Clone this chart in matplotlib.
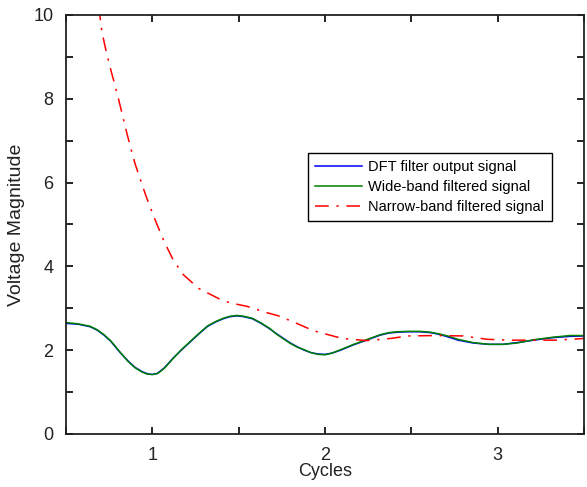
import matplotlib
matplotlib.use('Agg')
import matplotlib.pyplot as plt
from matplotlib.ticker import MultipleLocator, FuncFormatter

plt.rcParams['font.family'] = ['Liberation Sans', 'DejaVu Sans']

# Cycles axis for the DFT / wide-band outputs
x_bg = [0.5, 0.57, 0.64, 0.68, 0.72, 0.76, 0.81, 0.86, 0.90, 0.94, 0.97, 1.0, 1.03, 1.07,
        1.12, 1.17, 1.22, 1.27, 1.32, 1.37, 1.41, 1.45, 1.49, 1.53, 1.58, 1.63, 1.68, 1.72,
        1.76, 1.80, 1.84, 1.88, 1.92, 1.96, 2.0, 2.04, 2.09, 2.16, 2.24, 2.32, 2.37, 2.42,
        2.48, 2.55, 2.61, 2.66, 2.71, 2.77, 2.86, 2.95, 3.03, 3.11, 3.21, 3.32, 3.42, 3.5]
dft_out = [2.64, 2.62, 2.56, 2.48, 2.36, 2.21, 1.96, 1.74, 1.59, 1.49, 1.44, 1.42, 1.45, 1.58,
           1.81, 2.01, 2.20, 2.39, 2.57, 2.68, 2.75, 2.80, 2.82, 2.80, 2.75, 2.64, 2.51, 2.39,
           2.28, 2.17, 2.08, 2.00, 1.94, 1.91, 1.90, 1.93, 2.00, 2.12, 2.24, 2.36, 2.41, 2.43,
           2.44, 2.44, 2.42, 2.38, 2.32, 2.24, 2.17, 2.14, 2.14, 2.18, 2.24, 2.30, 2.33, 2.34]
wide_band = [2.66, 2.63, 2.57, 2.49, 2.37, 2.22, 1.97, 1.73, 1.58, 1.48, 1.43, 1.42, 1.44, 1.57,
             1.80, 2.02, 2.21, 2.40, 2.58, 2.69, 2.76, 2.81, 2.83, 2.81, 2.76, 2.65, 2.52, 2.38,
             2.27, 2.16, 2.07, 2.01, 1.94, 1.90, 1.89, 1.93, 2.01, 2.13, 2.25, 2.37, 2.42, 2.44,
             2.45, 2.45, 2.43, 2.39, 2.34, 2.26, 2.18, 2.14, 2.14, 2.17, 2.25, 2.31, 2.35, 2.35]

# Narrow-band output
x_nb = [0.69, 0.707, 0.73, 0.76, 0.78, 0.805, 0.83, 0.85, 0.87, 0.90, 0.93, 0.965, 1.0,
        1.03, 1.07, 1.12, 1.18, 1.27, 1.39, 1.45, 1.545, 1.66, 1.73, 1.82, 1.93, 2.0,
        2.10, 2.24, 2.38, 2.48, 2.65, 2.80, 2.94, 3.07, 3.2, 3.34, 3.5]
narrow_band = [10.2, 9.62, 9.18, 8.68, 8.38, 7.98, 7.56, 7.22, 6.90, 6.45, 6.08, 5.66, 5.28,
               4.97, 4.58, 4.16, 3.80, 3.47, 3.22, 3.13, 3.05, 2.90, 2.82, 2.67, 2.47, 2.39,
               2.28, 2.23, 2.28, 2.34, 2.35, 2.34, 2.26, 2.24, 2.24, 2.24, 2.28]

fig = plt.figure(figsize=(5.87, 4.87), dpi=100)
ax = fig.add_axes([66/587, 53/487, 518/587, 419/487])

ax.plot(x_bg, dft_out, color='#0000ff', lw=1.1, label='DFT filter output signal')
ax.plot(x_bg, wide_band, color='#008000', lw=1.1, label='Wide-band filtered signal')
ax.plot(x_nb, narrow_band, color='#ff0000', lw=1.1, dashes=(9, 5, 1.5, 5),
        label='Narrow-band filtered signal')

ax.set_xlim(0.5, 3.5)
ax.set_ylim(0, 10)
ax.xaxis.set_major_locator(MultipleLocator(0.5))
ax.yaxis.set_major_locator(MultipleLocator(1))
ax.xaxis.set_major_formatter(FuncFormatter(lambda v, p: '%d' % v if abs(v - round(v)) < 1e-6 else ''))
ax.yaxis.set_major_formatter(FuncFormatter(lambda v, p: '%d' % v if round(v) % 2 == 0 else ''))
ax.tick_params(direction='in', top=True, right=True, length=5, width=1.2,
               labelsize=13, pad=9, labelcolor='#222222')
for s in ax.spines.values():
    s.set_linewidth(1.3)
    s.set_color('#222222')

ax.set_xlabel('Cycles', fontsize=13, labelpad=0, color='#222222')
ax.set_ylabel('Voltage Magnitude', fontsize=14, labelpad=6, color='#222222')

leg = ax.legend(loc='upper left', bbox_to_anchor=(0.467, 0.671), borderaxespad=0,
                fontsize=10.5, handlelength=3.2, handletextpad=0.45, borderpad=0.5,
                labelspacing=0.4, fancybox=False, framealpha=1)
leg.get_frame().set_edgecolor('black')
leg.get_frame().set_linewidth(1.0)

fig.savefig('out.png', dpi=100)
